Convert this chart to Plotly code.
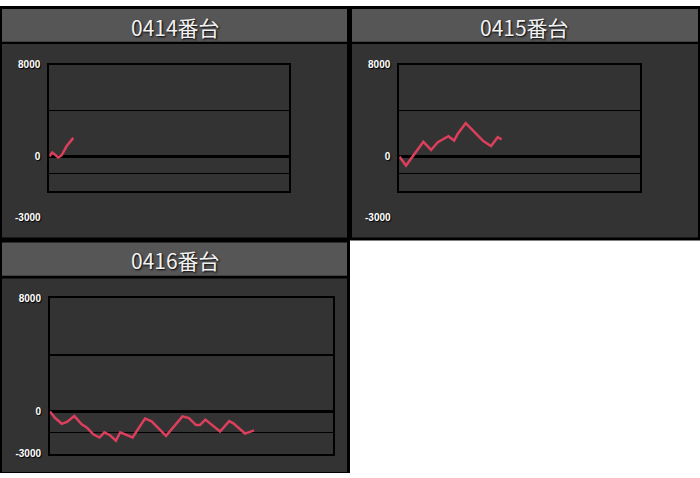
import plotly.graph_objects as go

W, H = 700, 478

titles = ["0414番台", "0415番台", "0416番台"]

# game count (x) and difference in medals (y)
x_0414 = [0, 125, 375, 515, 725, 1000]
y_0414 = [0, 340, -85, 110, 910, 1620]

x_0415 = [0, 280, 1000, 1320, 1600, 1760, 2040, 2280, 2430, 2760, 3220, 3490, 3810, 4090, 4250]
y_0415 = [0, -790, 1280, 570, 1250, 1420, 1760, 1390, 1980, 2900, 1900, 1340, 910, 1680, 1480]

x_0416 = [0, 180, 420, 600, 860, 1120, 1310, 1530, 1750, 1920, 2120, 2330, 2480, 2710, 2920,
          3180, 3360, 3590, 4100, 4680, 4910, 5160, 5300, 5490, 6010, 6330, 6480, 6890, 7210]
y_0416 = [0, -470, -880, -750, -330, -920, -1160, -1620, -1850, -1480, -1690, -2080, -1480, -1660, -1850,
          -1040, -510, -700, -1730, -350, -470, -970, -970, -580, -1430, -690, -850, -1570, -1340]

tick_vals = [8000, 4000, 0, -1500, -3000]
tick_text_full = ["8000", "", "0", "", "-3000"]
tick_text_top = ["8000", "", "0", "", ""]
y_range = [-3000, 8000]
x_range = [0, 10000]

LINE = "#dc3f5c"

def px_x(p):
    return p / W

def px_y(p):
    return 1 - p / H

fig = go.Figure()

series = [(x_0414, y_0414), (x_0415, y_0415), (x_0416, y_0416)]
for i, (xs, ys) in enumerate(series):
    ax = "" if i == 0 else str(i + 1)
    fig.add_trace(go.Scatter(x=xs, y=ys, mode="lines", xaxis="x" + ax, yaxis="y" + ax,
                             line=dict(color=LINE, width=2.5), showlegend=False,
                             hoverinfo="skip"))

# plot frame geometry (pixels)
frames = [
    (49.3, 289.3, 60, 189.3),
    (399.3, 640.0, 60, 189.3),
    (50.0, 333.0, 299.3, 458.3),
]
tickfont = dict(family="Liberation Sans, Arial", size=10, color="white",
                weight="bold", shadow="1px 1px 1px #000")

layout = dict(width=W, height=H, margin=dict(l=0, r=0, t=0, b=0), autosize=False,
              paper_bgcolor="white", plot_bgcolor="rgba(0,0,0,0)", showlegend=False)

for i, (x0, x1, y0, y1) in enumerate(frames):
    ax = "" if i == 0 else str(i + 1)
    layout["xaxis" + ax] = dict(domain=[px_x(x0), px_x(x1)], range=x_range, anchor="y" + ax,
                                showgrid=False, zeroline=False, showticklabels=False,
                                showline=True, mirror=True, linecolor="black", linewidth=2,
                                ticks="", fixedrange=True)
    layout["yaxis" + ax] = dict(domain=[px_y(y1), px_y(y0)], range=y_range, anchor="x" + ax,
                                tickmode="array", tickvals=tick_vals,
                                ticktext=tick_text_full if i == 2 else tick_text_top,
                                showgrid=True, gridcolor="black", gridwidth=1.5,
                                zeroline=True, zerolinecolor="black", zerolinewidth=3,
                                showline=True, mirror=True, linecolor="black", linewidth=2,
                                ticks="", ticklabelstandoff=5, tickfont=tickfont,
                                fixedrange=True)

fig.update_layout(**layout)

# panel decorations
panels = [
    (0, 350, 0, 240, 2, 347, 3, 36.7, 39, 237),
    (349, 700, 0, 240, 352, 698, 3, 36.7, 39, 237),
    (0, 350, 239, 478, 2, 347, 242, 276, 279, 477),
]
shapes = []
for (ox0, ox1, oy0, oy1, ix0, ix1, ty0, ty1, by0, by1) in panels:
    shapes.append(dict(type="rect", xref="paper", yref="paper", layer="below",
                       x0=px_x(ox0), x1=px_x(ox1), y0=px_y(oy1), y1=px_y(oy0),
                       fillcolor="black", line=dict(width=0)))
    shapes.append(dict(type="rect", xref="paper", yref="paper", layer="below",
                       x0=px_x(ix0), x1=px_x(ix1), y0=px_y(ty1), y1=px_y(ty0),
                       fillcolor="#565656", line=dict(width=0)))
    shapes.append(dict(type="rect", xref="paper", yref="paper", layer="below",
                       x0=px_x(ix0), x1=px_x(ix1), y0=px_y(by1), y1=px_y(by0),
                       fillcolor="#333333", line=dict(width=0)))
fig.update_layout(shapes=shapes)

annotations = []
title_pos = [(175, 21), (524.5, 21), (175, 260)]
for t, (cx, cy) in zip(titles, title_pos):
    annotations.append(dict(text=t, x=px_x(cx), y=px_y(cy), xref="paper", yref="paper",
                            xanchor="center", yanchor="middle", showarrow=False,
                            font=dict(family="Noto Sans CJK JP", size=21, color="#f2f2f2",
                                      shadow="1px 1px 2px #000")))
# misplaced lower labels of the top panels
for lx in (43, 393):
    annotations.append(dict(text="-3000", x=px_x(lx), y=px_y(216.7), xref="paper", yref="paper",
                            xanchor="right", yanchor="middle", showarrow=False, font=tickfont))
fig.update_layout(annotations=annotations)

post = ("var de=document.documentElement,b=document.body;"
        "de.style.margin='0';de.style.padding='0';de.style.overflow='hidden';"
        "de.style.height='478px';"
        "b.style.margin='0';b.style.padding='0';b.style.overflow='hidden';"
        "b.style.height='478px';"
        "var gd=document.getElementById('{plot_id}');"
        "var p=gd.parentNode;"
        "p.style.position='absolute';p.style.top='0px';p.style.left='0px';"
        "p.style.width='700px';p.style.height='478px';p.style.margin='0';"
        "p.style.padding='0';p.style.overflow='hidden';p.style.lineHeight='0';"
        "gd.style.position='absolute';gd.style.top='0px';gd.style.left='0px';"
        "window.scrollTo(0,0);")

fig.write_html("out.html", post_script=post,
               config={"displayModeBar": False, "staticPlot": True})
